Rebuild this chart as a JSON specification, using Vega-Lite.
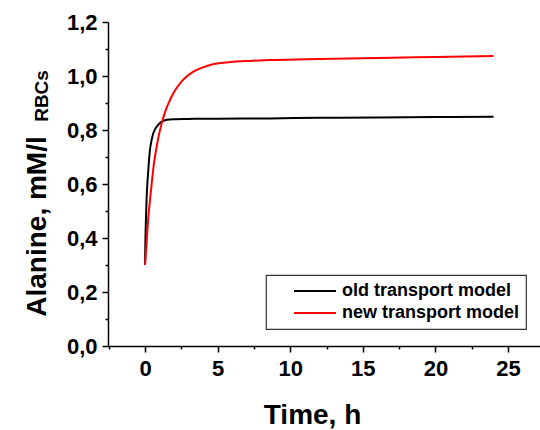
{
  "$schema": "https://vega.github.io/schema/vega-lite/v6.json",
  "width": 432,
  "height": 324,
  "autosize": {"type": "none"},
  "padding": {"left": 108, "top": 22, "right": 0, "bottom": 84},
  "background": "white",
  "config": {
    "view": {"stroke": null},
    "font": "Liberation Sans",
    "legend": {"strokeWidth": 1.2}
  },
  "datasets": {
    "curves": [
      {"model": "old transport model", "t": 0, "y": 0.3},
      {"model": "old transport model", "t": 0.03, "y": 0.4},
      {"model": "old transport model", "t": 0.07, "y": 0.48},
      {"model": "old transport model", "t": 0.11, "y": 0.55},
      {"model": "old transport model", "t": 0.16, "y": 0.6},
      {"model": "old transport model", "t": 0.25, "y": 0.67},
      {"model": "old transport model", "t": 0.34, "y": 0.726},
      {"model": "old transport model", "t": 0.45, "y": 0.762},
      {"model": "old transport model", "t": 0.57, "y": 0.788},
      {"model": "old transport model", "t": 0.75, "y": 0.808},
      {"model": "old transport model", "t": 0.92, "y": 0.82},
      {"model": "old transport model", "t": 1.1, "y": 0.829},
      {"model": "old transport model", "t": 1.26, "y": 0.834},
      {"model": "old transport model", "t": 1.5, "y": 0.838},
      {"model": "old transport model", "t": 1.95, "y": 0.84},
      {"model": "old transport model", "t": 3, "y": 0.841},
      {"model": "old transport model", "t": 5, "y": 0.842},
      {"model": "old transport model", "t": 8.6, "y": 0.843},
      {"model": "old transport model", "t": 12, "y": 0.845},
      {"model": "old transport model", "t": 16, "y": 0.846},
      {"model": "old transport model", "t": 20, "y": 0.848},
      {"model": "old transport model", "t": 24, "y": 0.849},
      {"model": "new transport model", "t": 0, "y": 0.3},
      {"model": "new transport model", "t": 0.1, "y": 0.375},
      {"model": "new transport model", "t": 0.23, "y": 0.479},
      {"model": "new transport model", "t": 0.35, "y": 0.545},
      {"model": "new transport model", "t": 0.46, "y": 0.602},
      {"model": "new transport model", "t": 0.6, "y": 0.67},
      {"model": "new transport model", "t": 0.76, "y": 0.726},
      {"model": "new transport model", "t": 0.95, "y": 0.78},
      {"model": "new transport model", "t": 1.15, "y": 0.825},
      {"model": "new transport model", "t": 1.4, "y": 0.87},
      {"model": "new transport model", "t": 1.72, "y": 0.911},
      {"model": "new transport model", "t": 2.05, "y": 0.945},
      {"model": "new transport model", "t": 2.41, "y": 0.973},
      {"model": "new transport model", "t": 2.85, "y": 0.997},
      {"model": "new transport model", "t": 3.33, "y": 1.016},
      {"model": "new transport model", "t": 3.9, "y": 1.03},
      {"model": "new transport model", "t": 4.48, "y": 1.041},
      {"model": "new transport model", "t": 5.2, "y": 1.048},
      {"model": "new transport model", "t": 6.08, "y": 1.053},
      {"model": "new transport model", "t": 7.2, "y": 1.056},
      {"model": "new transport model", "t": 8.6, "y": 1.059},
      {"model": "new transport model", "t": 11, "y": 1.062},
      {"model": "new transport model", "t": 14, "y": 1.065},
      {"model": "new transport model", "t": 17, "y": 1.068},
      {"model": "new transport model", "t": 20, "y": 1.07},
      {"model": "new transport model", "t": 24, "y": 1.074}
    ],
    "sub": [{"t": -6.68, "y": 0.926, "txt": "RBCs"}]
  },
  "layer": [
    {
      "data": {"name": "curves"},
      "mark": {"type": "line", "strokeWidth": 2, "interpolate": "monotone"},
      "encoding": {
        "x": {
          "field": "t",
          "type": "quantitative",
          "scale": {"domain": [-2.55, 27.2], "nice": false, "zero": false},
          "axis": {
            "values": [-2.5, 0, 2.5, 5, 7.5, 10, 12.5, 15, 17.5, 20, 22.5, 25],
            "tickCount": 40,
            "labelExpr": "round(datum.value*2) % 2 === 0 ? format(datum.value, 'd') : ''",
            "tickSize": {"condition": {"test": "round(datum.value*2) % 2 === 0", "value": 6}, "value": 3},
            "title": "Time, h",
            "titleFontSize": 28,
            "titleFontWeight": "bold",
            "titleColor": "#000",
            "titleX": 204,
            "titleY": 77,
            "titleBaseline": "alphabetic",
            "titleAlign": "center",
            "labelFontSize": 22,
            "labelFontWeight": "bold",
            "labelColor": "#000",
            "labelPadding": 6,
            "labelOverlap": false,
            "labelFlush": false,
            "domainColor": "#000",
            "domainWidth": 1.5,
            "tickColor": "#000",
            "tickWidth": 1.5,
            "grid": false
          }
        },
        "y": {
          "field": "y",
          "type": "quantitative",
          "scale": {"domain": [0, 1.2], "nice": false},
          "axis": {
            "values": [0, 0.1, 0.2, 0.3, 0.4, 0.5, 0.6, 0.7, 0.8, 0.9, 1.0, 1.1, 1.2],
            "tickCount": 40,
            "labelExpr": "round(datum.value*10) % 2 === 0 ? replace(format(datum.value, '.1f'), '.', ',') : ''",
            "tickSize": {"condition": {"test": "round(datum.value*10) % 2 === 0", "value": 6}, "value": 3},
            "title": "Alanine, mM/l",
            "titleFontSize": 28,
            "titleFontWeight": "bold",
            "titleColor": "#000",
            "titleAngle": 270,
            "titleX": -63,
            "titleY": 204,
            "titleAlign": "center",
            "titleBaseline": "alphabetic",
            "titleAnchor": null,
            "labelFontSize": 22,
            "labelFontWeight": "bold",
            "labelColor": "#000",
            "labelPadding": 5,
            "labelFlush": false,
            "labelOverlap": false,
            "domainColor": "#000",
            "domainWidth": 1.5,
            "tickColor": "#000",
            "tickWidth": 1.5,
            "grid": false
          }
        },
        "color": {
          "field": "model",
          "type": "nominal",
          "scale": {
            "domain": ["old transport model", "new transport model"],
            "range": ["#000000", "#ff0000"]
          },
          "legend": {
            "orient": "none",
            "legendX": 158,
            "legendY": 253,
            "title": null,
            "symbolType": "stroke",
            "symbolSize": 1764,
            "symbolStrokeWidth": 2,
            "clipHeight": 20,
            "rowPadding": 2,
            "padding": 6,
            "symbolOffset": 21,
            "labelOffset": 5,
            "labelFontSize": 18,
            "labelFontWeight": "bold",
            "labelColor": "#000",
            "labelLimit": 400,
            "strokeColor": "#333",
            "fillColor": "white"
          }
        }
      }
    },
    {
      "data": {"name": "sub"},
      "mark": {
        "type": "text",
        "angle": 270,
        "fontSize": 19,
        "fontWeight": "bold",
        "align": "center",
        "baseline": "alphabetic",
        "color": "#000"
      },
      "encoding": {
        "x": {"field": "t", "type": "quantitative"},
        "y": {"field": "y", "type": "quantitative"},
        "text": {"field": "txt"}
      }
    }
  ]
}
